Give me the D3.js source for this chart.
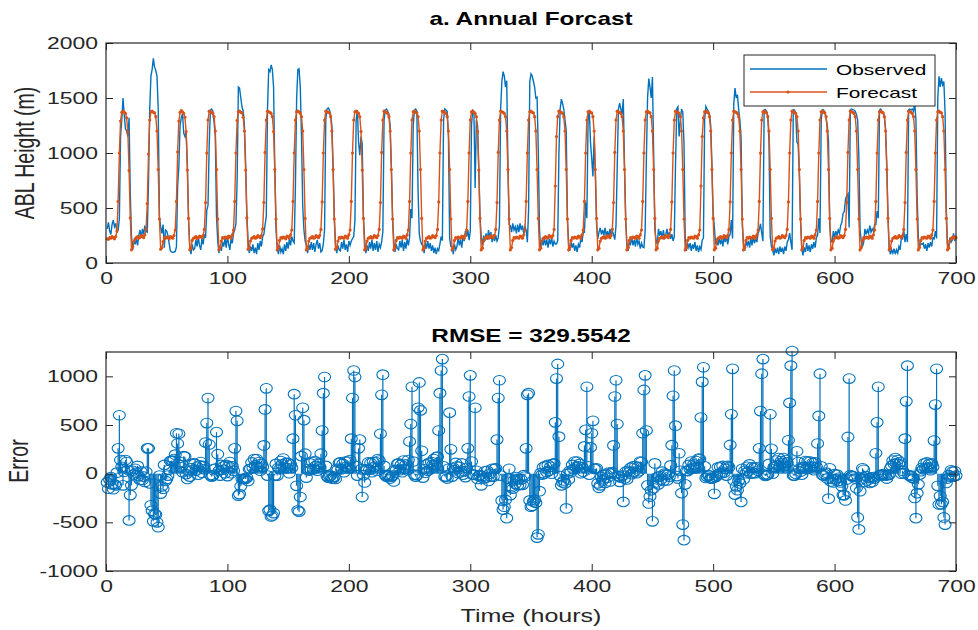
<!DOCTYPE html>
<html>
<head>
<meta charset="utf-8">
<script src="https://cdn.jsdelivr.net/npm/d3@7"></script>
<style>
  body { margin: 0; background: #fff; }
  svg { display: block; font-family: "Liberation Sans", Arial, Helvetica, sans-serif; }
</style>
</head>
<body>
<svg id="chart" width="978" height="630"></svg>
<script>
// hourly ABL height (m), one line = one day (24 h)
const forecast = [
  220,215,230,225,240,230,220,240,290,560,1000,1290,1370,1380,1370,1360,1320,1190,840,410,120,150,200,220,
  230,240,225,235,250,245,230,255,310,540,990,1300,1375,1380,1370,1365,1330,1200,850,400,125,140,195,230,
  225,235,230,220,240,235,225,250,300,560,1010,1290,1370,1385,1375,1360,1325,1195,845,405,120,135,205,225,
  230,240,220,230,245,240,230,250,305,550,1000,1300,1380,1375,1370,1360,1330,1200,850,400,120,140,200,230,
  225,235,230,225,245,240,225,255,300,560,1000,1295,1375,1380,1370,1365,1325,1200,845,410,125,135,200,225,
  230,240,225,230,250,240,230,250,310,550,1005,1300,1380,1375,1370,1360,1330,1195,850,400,120,140,205,230,
  225,235,230,220,245,240,225,255,300,560,1000,1300,1375,1380,1375,1360,1330,1200,850,405,120,135,200,225,
  230,240,225,230,250,240,230,250,305,555,1000,1300,1380,1375,1370,1365,1330,1200,850,400,125,140,200,230,
  225,235,230,225,245,240,225,255,300,560,1000,1300,1375,1380,1370,1360,1330,1195,845,405,120,135,200,225,
  230,240,225,230,250,240,230,250,305,550,1005,1300,1380,1375,1370,1360,1330,1200,850,400,120,140,205,230,
  225,235,230,225,245,240,225,255,300,560,1000,1300,1375,1380,1370,1365,1330,1200,850,405,120,135,200,225,
  230,240,225,230,250,240,230,250,305,555,1000,1300,1380,1375,1370,1360,1330,1200,850,400,120,140,205,230,
  225,235,230,225,245,240,225,255,300,560,1000,1300,1375,1380,1370,1360,1330,1195,845,405,120,135,200,225,
  230,240,225,230,250,240,230,250,305,550,1005,1300,1380,1375,1370,1360,1330,1200,850,400,120,140,205,230,
  225,235,230,225,245,240,225,255,300,560,1000,1300,1375,1380,1370,1365,1330,1200,850,405,120,135,200,225,
  230,240,225,230,250,240,230,250,305,700,1150,1330,1380,1375,1370,1360,1330,1200,850,400,120,140,205,230,
  225,235,230,225,245,240,225,255,300,560,1000,1300,1375,1380,1370,1365,1330,1200,850,405,120,135,200,225,
  230,240,225,230,250,240,230,250,305,550,1005,1300,1380,1375,1370,1360,1330,1200,850,400,120,140,205,230,
  225,235,230,225,245,240,225,255,300,560,1000,1300,1375,1380,1370,1365,1330,1200,850,405,120,135,200,225,
  230,240,225,230,250,240,230,250,305,555,1000,1300,1380,1375,1370,1360,1330,1200,850,400,120,140,205,230,
  225,235,230,225,245,240,225,255,300,700,1150,1320,1375,1380,1370,1365,1330,1200,850,405,120,135,200,225,
  230,240,225,230,250,240,230,250,305,555,1000,1300,1380,1375,1370,1360,1330,1200,850,400,120,140,205,230,
  225,235,230,225,245,240,225,255,300,560,1000,1300,1375,1380,1370,1365,1330,1200,850,405,120,135,200,225,
  230,240,225,230,250,240,230,250,305,555,1000,1300,1380,1375,1370,1360,1330,1200,850,400,120,140,205,230,
  225,235,230,225,245,240,225,255,300,560,1000,1300,1375,1380,1370,1365,1330,1200,850,405,120,135,200,225,
  230,240,225,230,250,240,230,250,305,550,1005,1300,1380,1375,1370,1360,1330,1200,850,400,120,140,205,230,
  225,235,230,225,245,240,225,255,300,560,1000,1300,1375,1380,1370,1365,1330,1200,850,405,120,135,200,225,
  230,240,225,230,250,240,230,250,305,550,1005,1300,1380,1375,1370,1360,1330,1200,850,400,120,140,205,230,
  225,235,230,225,245,240,225,255,300,560,1000,1300,1375,1380,1370,1365,1330,1200,850,405,120,135,200,225,
  230,240,225,230
];

const observed = [
  310,370,290,260,350,390,330,360,280,300,400,1150,1300,1500,1350,1220,1200,1150,1320,630,240,120,210,170,
  220,160,250,300,230,310,260,340,290,280,730,1400,1700,1760,1860,1780,1750,1700,1400,420,330,270,350,140,
  300,290,250,180,110,100,95,100,105,145,700,880,1250,1320,1360,1180,1150,1200,900,380,150,80,170,120,
  130,210,150,240,160,120,220,170,260,230,480,523,1080,1390,1400,1380,1280,1150,423,200,90,160,110,190,
  150,230,140,250,170,120,220,180,270,300,357,752,1600,1590,1500,1420,1380,1250,900,450,200,90,150,110,
  170,90,140,80,180,120,200,150,240,260,345,423,1400,1757,1740,1800,1760,1600,870,300,140,80,160,100,
  130,80,170,110,190,130,220,160,240,200,183,700,1500,1757,1765,1600,1150,523,300,200,160,90,170,120,
  190,120,180,100,170,210,130,180,100,112,173,307,1300,1400,1410,1390,1350,1250,900,430,180,90,160,120,
  110,190,130,210,120,170,100,200,160,200,223,240,382,1300,1390,1100,980,1150,1085,420,210,90,160,110,
  190,130,210,110,180,120,200,100,170,140,195,283,1300,1390,1400,1380,1350,1250,880,420,200,100,170,130,
  120,200,140,210,110,190,130,220,160,230,490,407,1250,1390,1400,1380,653,263,200,170,160,90,190,130,
  200,130,180,110,160,90,140,80,130,112,173,240,203,1300,1400,1390,1380,1150,223,150,150,80,170,120,
  150,230,160,210,140,250,200,290,240,300,207,290,1250,1390,1380,683,1300,1250,870,420,240,160,250,200,
  270,210,300,230,280,190,260,200,250,200,228,340,1400,1650,1739,1700,1600,1657,900,350,340,280,360,300,
  330,270,350,280,360,300,340,270,330,300,190,473,1650,1720,1700,1650,1600,1500,1507,1028,300,130,210,160,
  230,160,210,140,220,170,230,150,200,173,173,203,1000,1400,1490,1450,1400,1300,1207,400,180,110,190,140,
  180,110,160,100,170,140,220,190,280,280,550,407,1300,1390,1100,950,787,1150,800,350,220,280,320,260,
  300,250,320,240,290,230,310,250,290,260,212,340,870,1400,1454,1400,1350,1490,900,380,180,110,190,170,
  230,160,210,150,240,170,200,130,180,145,140,290,932,1500,1676,1600,1500,1690,1000,300,210,170,310,250,
  290,220,300,230,260,310,240,280,220,262,200,240,887,1400,1420,1150,1300,1400,1373,1083,230,110,180,140,
  180,110,170,130,190,110,160,100,150,123,207,227,1300,1424,1400,1380,1350,1250,900,450,327,170,220,160,
  230,170,220,150,240,190,250,170,240,260,390,223,1450,1590,1500,1530,1400,1300,1140,350,180,110,200,160,
  200,140,230,160,240,180,220,190,270,300,357,273,198,1390,1394,1380,1340,1100,240,150,120,70,130,90,
  140,80,150,100,140,80,150,110,190,212,273,190,120,1394,1390,1360,1100,1080,800,380,130,70,140,100,
  180,110,160,100,170,130,190,140,230,250,407,273,1300,1394,1390,1370,1320,1250,1107,350,200,190,290,230,
  290,250,300,270,340,370,450,470,580,610,628,323,1394,1400,1394,1390,1380,1350,1300,973,300,200,150,190,
  310,260,300,270,340,280,310,290,350,350,473,407,1390,1400,1380,1370,1340,1220,900,420,130,80,120,90,
  130,80,120,90,150,120,230,220,300,190,262,190,1394,1400,1390,1400,1380,1450,1307,600,230,150,180,170,
  180,130,170,110,180,140,190,150,230,220,290,223,1500,1697,1600,1680,1620,1650,1373,500,170,150,230,190,
  210,270,200,250
];

const xTicks = [0, 100, 200, 300, 400, 500, 600, 700];
const heightTicks = [0, 500, 1000, 1500, 2000];
const errorTicks = [-1000, -500, 0, 500, 1000];
const legendNames = ["Observed", "Forecast"];
const topTitle = "a. Annual Forcast";
const bottomTitle = "RMSE = 329.5542";

const colors = { observed: "#0072BD", forecast: "#D95319", axis: "#262626" };
const SX = 1.39; // the exported figure was stretched sideways, so is its text

const hours = observed.map((d, i) => i + 1);
const error = forecast.map((f, i) => f - observed[i]); // forecast minus observed

const svg = d3.select("#chart");
svg.append("rect").attr("width", 978).attr("height", 630).attr("fill", "#fff");

const x = d3.scaleLinear().domain([0, 700]).range([106, 956]);
const yTop = d3.scaleLinear().domain([0, 2000]).range([263, 43]);
const yBot = d3.scaleLinear().domain([-1000, 1250]).range([571, 352]);

// box + inward ticks on all four sides, like matlab
const drawAxes = (yScale, yTickVals) => {
  const g = svg.append("g").attr("class", "axes");
  const [yb, yt] = yScale.range();
  const [xl, xr] = x.range();
  const fmt = (d) => String(d);

  g.append("g")
    .attr("class", "x-bottom")
    .attr("transform", `translate(0,${yb})`)
    .call(d3.axisBottom(x).tickValues(xTicks).tickFormat(fmt).tickSizeInner(-7).tickSizeOuter(0).tickPadding(9));
  g.append("g")
    .attr("transform", `translate(0,${yt})`)
    .call(d3.axisTop(x).tickValues(xTicks).tickFormat("").tickSizeInner(-7).tickSizeOuter(0));
  g.append("g")
    .attr("class", "y-left")
    .attr("transform", `translate(${xl},0)`)
    .call(d3.axisLeft(yScale).tickValues(yTickVals).tickFormat(fmt).tickSizeInner(-7).tickSizeOuter(0).tickPadding(8 / SX));
  g.append("g")
    .attr("transform", `translate(${xr},0)`)
    .call(d3.axisRight(yScale).tickValues(yTickVals).tickFormat("").tickSizeInner(-7).tickSizeOuter(0));

  g.selectAll(".domain").remove();
  g.selectAll(".tick line").attr("stroke", colors.axis).attr("stroke-width", 1);
  g.selectAll(".tick text")
    .attr("fill", colors.axis)
    .style("font-size", "16.5px")
    .style("font-family", "'Liberation Sans', Arial, sans-serif")
    .attr("transform", `scale(${SX},1)`);

  g.append("rect")
    .attr("x", xl)
    .attr("y", yt)
    .attr("width", xr - xl)
    .attr("height", yb - yt)
    .attr("fill", "none")
    .attr("stroke", colors.axis)
    .attr("stroke-width", 1.2);
  return g;
};

const addText = (txt, tx, ty, size, bold, rotate) => {
  svg.append("text")
    .attr("transform", `translate(${tx},${ty}) scale(${SX},1)` + (rotate ? " rotate(-90)" : ""))
    .attr("text-anchor", "middle")
    .attr("font-size", size)
    .attr("font-weight", bold ? "bold" : "normal")
    .attr("fill", bold ? "#000" : colors.axis)
    .text(txt);
};

// ---- top panel: observed vs forecast
const lineGen = d3.line().x((d, i) => x(hours[i])).y((d) => yTop(d));

svg.append("path")
  .datum(observed)
  .attr("d", lineGen)
  .attr("fill", "none")
  .attr("stroke", colors.observed)
  .attr("stroke-width", 1.4);

svg.append("path")
  .datum(forecast)
  .attr("d", lineGen)
  .attr("fill", "none")
  .attr("stroke", colors.forecast)
  .attr("stroke-width", 1.4);

svg.append("g")
  .selectAll("circle")
  .data(forecast)
  .join("circle")
  .attr("cx", (d, i) => x(hours[i]))
  .attr("cy", (d) => yTop(d))
  .attr("r", 1.6)
  .attr("fill", colors.forecast);

drawAxes(yTop, heightTicks);

// legend
const legend = svg.append("g").attr("class", "legend");
legend.append("rect")
  .attr("x", 744).attr("y", 55).attr("width", 191).attr("height", 51)
  .attr("fill", "#fff").attr("stroke", colors.axis).attr("stroke-width", 1);
legendNames.forEach((name, i) => {
  const ly = 69 + i * 23;
  const c = i === 0 ? colors.observed : colors.forecast;
  legend.append("line")
    .attr("x1", 750).attr("x2", 827).attr("y1", ly).attr("y2", ly)
    .attr("stroke", c).attr("stroke-width", 1.4);
  if (i === 1) {
    legend.append("circle").attr("cx", 788).attr("cy", ly).attr("r", 1.6).attr("fill", c);
  }
  legend.append("text")
    .attr("transform", `translate(836,${ly + 5.5}) scale(${SX},1)`)
    .attr("font-size", 15)
    .attr("fill", "#000")
    .text(name);
});

addText(topTitle, 531, 25, 17.5, true);
addText("ABL Height (m)", 34, 153, 19.5, false, true);

// ---- bottom panel: error stems
const stems = svg.append("g").attr("class", "stems");
stems.selectAll("line")
  .data(error)
  .join("line")
  .attr("x1", (d, i) => x(hours[i]))
  .attr("x2", (d, i) => x(hours[i]))
  .attr("y1", yBot(0))
  .attr("y2", (d) => yBot(d))
  .attr("stroke", colors.observed)
  .attr("stroke-width", 1.2);
stems.selectAll("ellipse")
  .data(error)
  .join("ellipse")
  .attr("cx", (d, i) => x(hours[i]))
  .attr("cy", (d) => yBot(d))
  .attr("rx", 6)
  .attr("ry", 4.8)
  .attr("fill", "none")
  .attr("stroke", colors.observed)
  .attr("stroke-width", 1.1);

drawAxes(yBot, errorTicks);

addText(bottomTitle, 531, 342, 17.5, true);
addText("Error", 28, 461, 19.5, false, true);
addText("Time (hours)", 531, 622, 18, false);
</script>
</body>
</html>
